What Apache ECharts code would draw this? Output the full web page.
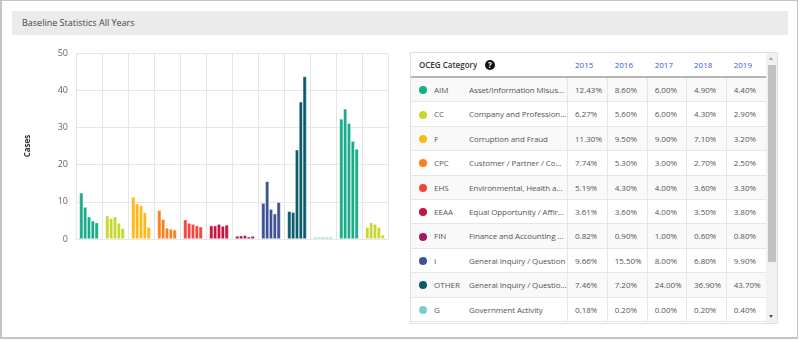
<!DOCTYPE html>
<html><head><meta charset="utf-8">
<script src="https://cdn.jsdelivr.net/npm/echarts@6/dist/echarts.min.js"></script>
<style>
html,body{margin:0;padding:0;width:800px;height:340px;overflow:hidden;background:#fff;font-family:"Open Sans",sans-serif;}
#chart{position:absolute;left:0;top:0;width:800px;height:340px;}
#frame{position:absolute;left:0;top:0;width:795px;height:336px;border:1px solid #c4c4c4;border-left:2px solid #c4c4c4;border-bottom:2px solid #c4c4c4;pointer-events:none;}
#hdr{position:absolute;left:12px;top:11px;width:776px;height:24px;background:#ebebeb;}
#title{position:absolute;left:22px;top:11px;height:24px;line-height:24px;font-size:9px;color:#444;}
#tbl{position:absolute;left:410px;top:52px;width:366px;height:270px;border:1px solid #e0e0e0;background:#fff;overflow:hidden;}
.abs{position:absolute;}
.txt{position:absolute;font-size:8px;color:#555;white-space:nowrap;overflow:hidden;text-overflow:ellipsis;}
</style>
</head><body>
<div id="chart"></div>
<div id="hdr"></div>
<div id="title">Baseline Statistics All Years</div>
<div id="tbl"></div>
<div id="frame"></div>
<script>
// ---- data ----
const years = ['2015', '2016', '2017', '2018', '2019'];
// last two categories are scrolled out of view in the table
const codes = ['AIM', 'CC', 'F', 'CPC', 'EHS', 'EEAA', 'FIN', 'I', 'OTHER', 'G', 'ROW11', 'ROW12'];
const descriptions = [
  'Asset/Information Misuse or Misappropriation',
  'Company and Professional Conduct',
  'Corruption and Fraud',
  'Customer / Partner / Competitor Relations',
  'Environmental, Health and Safety',
  'Equal Opportunity / Affirmative Action',
  'Finance and Accounting Matters',
  'General Inquiry / Question',
  'General Inquiry / Question (Other)',
  'Government Activity',
  '',
  ''
];
const v2015 = [12.43, 6.27, 11.30, 7.74, 5.19, 3.61, 0.82, 9.66, 7.46, 0.18, 32.3, 3.2];
const v2016 = [8.60, 5.60, 9.50, 5.30, 4.30, 3.60, 0.90, 15.50, 7.20, 0.20, 35.0, 4.4];
const v2017 = [6.00, 6.00, 9.00, 3.00, 4.00, 4.00, 1.00, 8.00, 24.00, 0.00, 31.1, 4.0];
const v2018 = [4.90, 4.30, 7.10, 2.70, 3.60, 3.50, 0.60, 6.80, 36.90, 0.20, 26.3, 3.2];
const v2019 = [4.40, 2.90, 3.20, 2.50, 3.30, 3.80, 0.80, 9.90, 43.70, 0.40, 24.2, 1.1];
const yMin = 0, yMax = 50, yStep = 10;
const visibleRows = 10;

// ---- styles ----
const palette = ['#1aab8a', '#c8d72e', '#fdb913', '#f7801f', '#f1453d', '#c41540', '#a3195b', '#3f5195', '#0a5c6b', '#74d1c8'];
const colorOf = i => palette[i % palette.length];
const values = [v2015, v2016, v2017, v2018, v2019];

const chart = echarts.init(document.getElementById('chart'), null, {renderer: 'canvas'});
chart.setOption({
  animation: false,
  textStyle: {fontFamily: 'Open Sans'},
  grid: {left: 76, right: 412, top: 53, bottom: 101},
  xAxis: {
    type: 'category', data: codes,
    axisLine: {show: true, lineStyle: {color: '#e6e6e6'}},
    axisTick: {show: false, interval: 0}, axisLabel: {show: false, interval: 0},
    splitLine: {show: true, interval: 0, lineStyle: {color: '#e6e6e6'}}
  },
  yAxis: {
    type: 'value', min: yMin, max: yMax, interval: yStep,
    name: 'Cases', nameLocation: 'middle', nameGap: 44,
    nameTextStyle: {fontSize: 8, fontWeight: 'bold', color: '#333'},
    axisLine: {show: false}, axisTick: {show: false},
    axisLabel: {fontSize: 9, color: '#666', margin: 8},
    splitLine: {lineStyle: {color: '#e6e6e6'}}
  },
  series: years.map((y, k) => ({
    type: 'bar', name: y, data: values[k],
    barGap: '0%', barCategoryGap: '26%', barMinHeight: 2,
    itemStyle: {color: p => colorOf(p.dataIndex), borderColor: '#fff', borderWidth: 0.5}
  }))
});

// ---- table ----
const tbl = document.getElementById('tbl');
function el(cls, css, text) {
  const d = document.createElement('div');
  d.className = cls; d.style.cssText = css;
  if (text !== undefined) d.textContent = text;
  tbl.appendChild(d); return d;
}
const colLeft = [156, 195.7, 235.7, 275, 314.7];
const headerH = 25, rowH = 24.4;
// header
el('txt', 'left:8px;top:0;height:23px;line-height:23px;font-weight:600;color:#333;', 'OCEG Category');
el('abs', 'left:74px;top:6.5px;width:10px;height:10px;border-radius:50%;background:#111;color:#fff;font-size:8px;font-weight:700;line-height:10px;text-align:center;', '?');
years.forEach((y, k) => el('txt', `left:${colLeft[k] + 8}px;top:0;height:23px;line-height:23px;color:#3957d5;`, y));
el('abs', `left:0;top:${headerH - 2}px;width:355px;height:2px;background:#b5b5b5;`);
// rows
for (let i = 0; i < visibleRows; i++) {
  const top = headerH + i * rowH;
  el('abs', `left:0;top:${top}px;width:355px;height:${rowH}px;background:${i % 2 === 0 ? '#f9f9f9' : '#ffffff'};border-bottom:1px solid #e6e6e6;box-sizing:border-box;`);
  el('abs', `left:8px;top:${top + rowH / 2 - 4}px;width:8px;height:8px;border-radius:50%;background:${colorOf(i)};`);
  el('txt', `left:23px;top:${top}px;height:${rowH}px;line-height:${rowH}px;`, codes[i]);
  el('txt', `left:58px;top:${top}px;width:98px;height:${rowH}px;line-height:${rowH}px;letter-spacing:-0.1px;`, descriptions[i]);
  years.forEach((y, k) => el('txt', `left:${colLeft[k] + 8}px;top:${top}px;height:${rowH}px;line-height:${rowH}px;`, values[k][i].toFixed(2) + '%'));
}
// vertical cell borders
colLeft.forEach(x => el('abs', `left:${x}px;top:${headerH}px;width:1px;height:${visibleRows * rowH}px;background:#e6e6e6;`));
// scrollbar
el('abs', 'left:355px;top:0;width:11px;height:270px;background:#f1f1f1;');
el('abs', 'left:356.5px;top:12px;width:8px;height:197px;background:#c1c1c1;');
el('abs', 'left:358px;top:4px;width:0;height:0;border-left:2.5px solid transparent;border-right:2.5px solid transparent;border-bottom:3px solid #a3a3a3;');
el('abs', 'left:358px;top:262px;width:0;height:0;border-left:2.5px solid transparent;border-right:2.5px solid transparent;border-top:3px solid #505050;');
</script>
</body></html>
